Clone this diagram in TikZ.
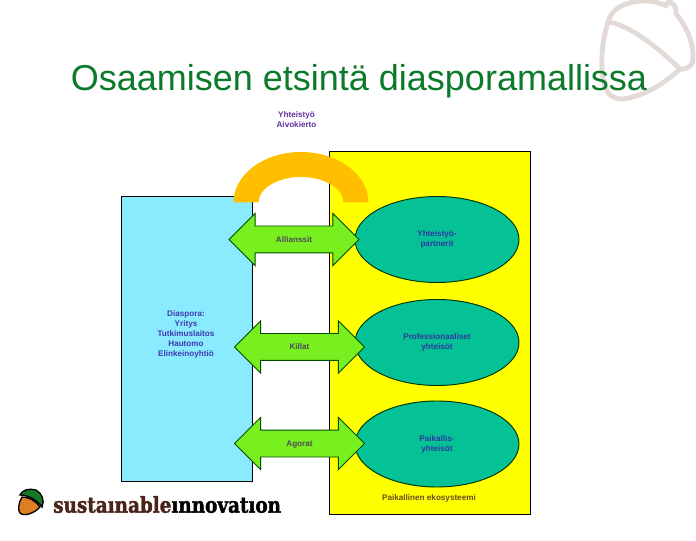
\documentclass[tikz,border=0pt]{standalone}
\usepackage{fontspec}
\setmainfont{Liberation Sans}
\newfontfamily\logofont[FakeStretch=0.84,FakeBold=1.6]{DejaVu Serif}
\usetikzlibrary{shapes.geometric,shapes.arrows}
\definecolor{otsikko}{HTML}{0B7A2B}
\definecolor{teksti}{HTML}{6030A0}
\definecolor{nuoliteksti}{HTML}{4F4A55}
\definecolor{soikioteksti}{HTML}{3038A0}
\definecolor{sinisenteksti}{HTML}{4038B0}
\definecolor{keltaisenteksti}{HTML}{6A4A20}
\definecolor{taustatammi}{HTML}{E2DAD6}
\definecolor{sininen}{HTML}{8AEBFF}
\definecolor{keltainen}{HTML}{FFFF00}
\definecolor{vihrea}{HTML}{78F020}
\definecolor{turkoosi}{HTML}{05C296}
\definecolor{oranssi}{HTML}{FFBE00}
\definecolor{ruskea}{HTML}{4A2418}
\tikzset{
  laatikko/.style={draw=black,line width=0.7pt,rectangle,inner sep=0pt},
  yhteiso/.style={draw=black!80!green,line width=0.7pt,fill=turkoosi,ellipse,inner sep=0pt,
    minimum width=123pt,minimum height=64.5pt,align=center,text=soikioteksti,
    font=\fontsize{6.1}{7.5}\selectfont\bfseries},
  nuoli/.style={draw=black!70!green,line width=0.7pt,fill=vihrea,double arrow,
    inner xsep=0pt,inner ysep=6.75pt,text height=5pt,text depth=1pt,
    double arrow head extend=9.5pt,minimum width=38.25pt,minimum height=97.5pt,
    text=nuoliteksti,font=\fontsize{6.1}{7.5}\selectfont\bfseries},
  pieni/.style={align=center,text=teksti,inner sep=0pt,font=\fontsize{6.1}{7.5}\selectfont\bfseries}
}
\begin{document}
\begin{tikzpicture}[x=0.75pt,y=-0.75pt]
\useasboundingbox (0,0) rectangle (696,541);

\draw[taustatammi,line width=3.6pt,line join=round,line cap=round]
  (608,22) .. controls (612,8) and (625,2) .. (643,1)
  .. controls (655,1) and (660,3) .. (666,6) (666,6) -- (668,2)
  .. controls (673,1) and (677,8) .. (676,14)
  .. controls (688,28) and (694,45) .. (693,60)
  .. controls (692,66) and (688,69) .. (680,69)
  .. controls (665,83) and (645,96) .. (623,99)
  .. controls (608,99) and (604,90) .. (602,70)
  .. controls (601,50) and (604,35) .. (608,22)
  .. controls (625,24) and (650,40) .. (680,69);

\node[laatikko,fill=keltainen,minimum width=150.75pt,minimum height=272.25pt] (ekosysteemi) at (429.5,332.5) {};
\node[laatikko,fill=sininen,minimum width=98.25pt,minimum height=213.75pt] (diaspora) at (186.5,338.5) {};

\fill[oranssi] (233.5,202.5) arc[start angle=180,end angle=360,x radius=67.5,y radius=50.5]
  -- (343.5,202.5) arc[start angle=360,end angle=180,x radius=42.5,y radius=25.5] -- cycle;

\node[yhteiso] (partnerit) at (437,239.5) {Yhteistyö-\\partnerit};
\node[yhteiso] (professio) at (437,342.5) {Professionaaliset\\yhteisöt};
\node[yhteiso] (paikallis) at (437,444) {Paikallis-\\yhteisöt};

\node[nuoli] (allianssit) at (294,239.5) {Allianssit};
\node[nuoli] (killat) at (299.5,347) {Killat};
\node[nuoli] (agorat) at (299.5,443.5) {Agorat};

\node[pieni] (yhteistyo) at (296.5,120) {Yhteistyö\\Aivokierto};
\node[pieni,text=sinisenteksti] (diasporateksti) at (186,334) {Diaspora:\\Yritys\\Tutkimuslaitos\\Hautomo\\Elinkeinoyhtiö};
\node[pieni,text=keltaisenteksti] (ekoteksti) at (429,498) {Paikallinen ekosysteemi};

\node[text=otsikko,inner sep=0pt,font=\fontsize{27}{32}\selectfont] (otsikko) at (359,81) {Osaamisen etsintä diasporamallissa};

\draw[black,line width=1pt,fill={rgb,255:red,222;green,125;blue,35}]
  (22,497) .. controls (18,503) and (18,511) .. (20,513)
  .. controls (24,517) and (35,513) .. (40,507)
  .. controls (36,501) and (29,497) .. (22,497) -- cycle;
\draw[black,line width=1pt,fill={rgb,255:red,20;green,120;blue,40}]
  (20,495) .. controls (22,490) and (29,488) .. (36,490)
  .. controls (42,493) and (45,501) .. (42,507)
  .. controls (38,501) and (29,495) .. (20,495) -- cycle;
\node[anchor=west,inner sep=0pt,font=\fontsize{16.4}{18}\logofont\bfseries] (logo) at (53,504.5) {\textcolor{ruskea}{sustaınable}\textcolor{black}{ınnovatıon}};
\end{tikzpicture}
\end{document}
